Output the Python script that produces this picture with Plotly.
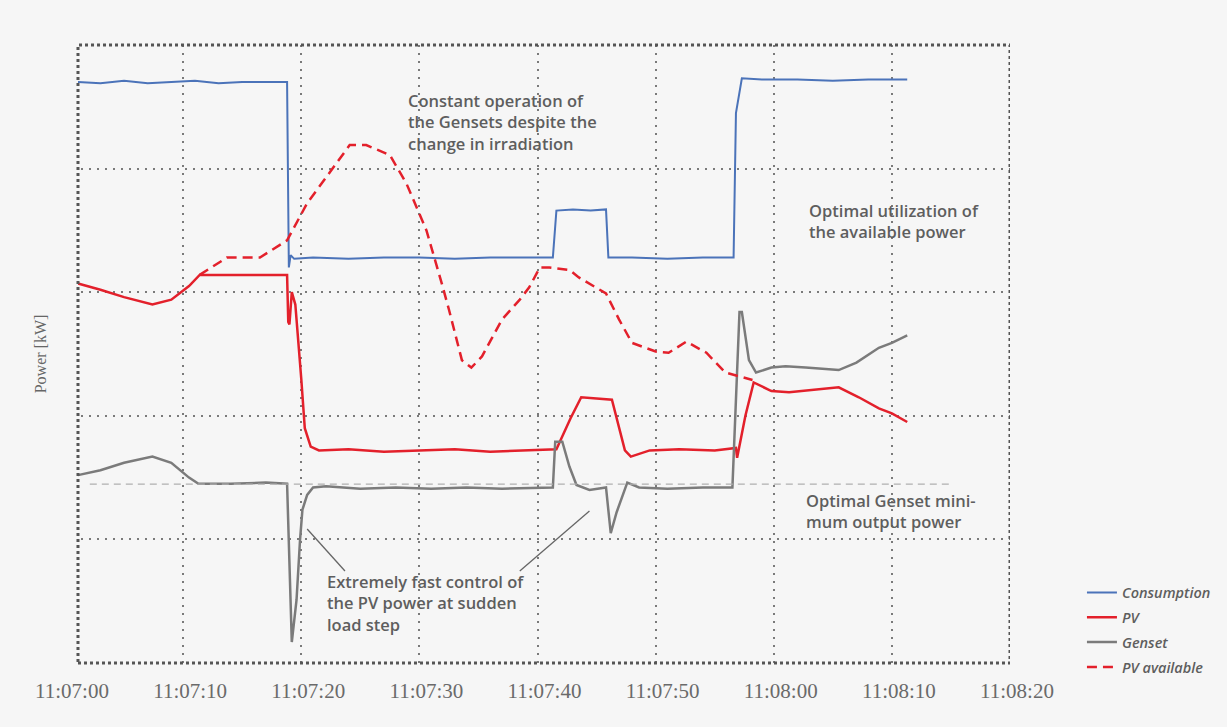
import pandas as pd
import plotly.graph_objects as go

BASE = pd.Timestamp("2024-01-01 11:07:00")

# seconds after 11:07:00 and power values (arbitrary kW units, axis 0..5)
cons_t = [1.1, 3, 5, 7, 9, 11, 13, 15, 17, 18.8, 18.95, 19.1, 19.4, 21, 24, 27, 30, 33, 36, 39,
          41.3, 41.6, 43, 44.5, 45.8, 46.0, 48, 51, 54, 56.4, 56.6, 56.8, 57.1, 57.3, 59, 62, 65, 68, 71.3]
cons_v = [4.70, 4.69, 4.71, 4.69, 4.70, 4.71, 4.69, 4.70, 4.70, 4.70, 3.20, 3.30, 3.27, 3.28, 3.27, 3.28,
          3.28, 3.27, 3.28, 3.28, 3.28, 3.66, 3.67, 3.66, 3.67, 3.28, 3.28, 3.27, 3.28, 3.28, 3.28, 4.45,
          4.60, 4.73, 4.72, 4.72, 4.71, 4.72, 4.72]

pv_t = [1.1, 3, 5, 7.4, 9, 10.5, 11.4, 14, 17, 18.8, 18.9, 19.0, 19.2, 19.5, 20.0, 20.3, 20.8, 21.5,
        24, 27, 30, 33, 36, 39, 41.6, 42.8, 43.7, 45, 46.3, 47.4, 47.9, 49.5, 52, 55, 56.8, 56.9,
        57.6, 58.3, 59.8, 61.3, 63.5, 65.5, 67.2, 68.9, 70.0, 71.3]
pv_v = [3.07, 3.02, 2.96, 2.90, 2.94, 3.05, 3.14, 3.14, 3.14, 3.14, 2.76, 2.74, 3.00, 2.90, 2.30, 1.90,
        1.75, 1.72, 1.73, 1.71, 1.72, 1.73, 1.71, 1.72, 1.73, 1.98, 2.15, 2.14, 2.13, 1.72, 1.67, 1.72,
        1.73, 1.72, 1.74, 1.66, 2.00, 2.27, 2.20, 2.19, 2.21, 2.23, 2.15, 2.06, 2.02, 1.95]

pva_t = [11.4, 13.7, 16.5, 18.8, 20.5, 22.1, 24.1, 25.5, 27.5, 28.9, 30.6, 31.9, 32.5, 33.6, 34.4,
         35.3, 37.0, 38.5, 39.3, 40.2, 41.0, 42.7, 43.5, 45.8, 46.9, 48.0, 50.0, 51.1, 52.6, 54.3,
         55.9, 58.2]
pva_v = [3.14, 3.28, 3.28, 3.42, 3.72, 3.93, 4.19, 4.19, 4.11, 3.88, 3.50, 3.07, 2.86, 2.45, 2.39,
         2.48, 2.78, 2.94, 3.04, 3.20, 3.20, 3.18, 3.12, 2.99, 2.78, 2.59, 2.52, 2.51, 2.60, 2.51,
         2.35, 2.29]

gen_t = [1.1, 3, 5, 7.4, 9, 10.5, 11.3, 14, 17, 18.8, 19.2, 19.6, 19.9, 20.1, 20.5, 21.0, 22.1, 25,
         28, 31, 34, 37, 41.3, 41.5, 42.1, 42.7, 43.3, 44.4, 45.8, 46.2, 46.7, 47.6, 48.6, 51, 54,
         56.5, 57.1, 57.3, 57.9, 58.5, 59.8, 61.0, 62.7, 65.5, 67.0, 68.9, 70.0, 71.3]
gen_v = [1.52, 1.56, 1.62, 1.67, 1.62, 1.50, 1.45, 1.45, 1.46, 1.45, 0.17, 0.51, 1.00, 1.24, 1.36,
         1.42, 1.43, 1.41, 1.42, 1.41, 1.42, 1.41, 1.42, 1.79, 1.79, 1.59, 1.44, 1.40, 1.42, 1.05,
         1.22, 1.46, 1.42, 1.41, 1.42, 1.42, 2.84, 2.84, 2.45, 2.35, 2.39, 2.40, 2.39, 2.37, 2.43,
         2.55, 2.59, 2.65]

genset_min_level = 1.448
genset_min_span = [2.1, 75.0]

x_ticks_s = [0, 10, 20, 30, 40, 50, 60, 70, 80]
frame_start_s = 1.1   # the recorded window (and the chart frame) starts just after 11:07:00


def ts(sec):
    return BASE + pd.to_timedelta(sec, unit="s")


BLUE = "#4b73b9"
RED = "#e3202b"
GRAY = "#7b7b7b"
TXT = "#5e5e5e"
BG = "#f6f6f6"

fig = go.Figure()
fig.add_trace(go.Scatter(x=ts(cons_t), y=cons_v, mode="lines", name="Consumption",
                         line=dict(color=BLUE, width=2), legendgroup="a"))
fig.add_trace(go.Scatter(x=ts(pv_t), y=pv_v, mode="lines", name="PV",
                         line=dict(color=RED, width=2.5), legendgroup="b"))
fig.add_trace(go.Scatter(x=ts(gen_t), y=gen_v, mode="lines", name="Genset",
                         line=dict(color=GRAY, width=2.5), legendgroup="c"))
fig.add_trace(go.Scatter(x=ts(pva_t), y=pva_v, mode="lines", name="PV available",
                         line=dict(color=RED, width=2.5, dash="10px,6px"), legendgroup="d"))
# Genset minimum output reference line
fig.add_trace(go.Scatter(x=ts(genset_min_span), y=[genset_min_level] * 2, mode="lines",
                         line=dict(color="#b0b0b0", width=1.3, dash="7px,5px"),
                         showlegend=False, hoverinfo="skip"))

ann_font = dict(family="Open Sans", size=16.5, color=TXT, weight=600)
annotations = [
    dict(x=ts(28.9), y=4.66, text="Constant operation of<br>the Gensets despite the<br>change in irradiation"),
    dict(x=ts(62.8), y=3.77, text="Optimal utilization of<br>the available power"),
    dict(x=ts(62.6), y=1.42, text="Optimal Genset mini-<br>mum output power"),
    dict(x=ts(22.0), y=0.77, text="Extremely fast control of<br>the PV power at sudden<br>load step"),
]
for a in annotations:
    a.update(xref="x", yref="y", xanchor="left", yanchor="top", align="left",
             showarrow=False, font=ann_font)

shapes = [
    # blank strip left of the frame
    dict(type="rect", xref="x", yref="paper", x0=ts(-0.5), x1=ts(frame_start_s), y0=-0.01, y1=1.01,
         line=dict(width=0), fillcolor=BG, layer="above"),
    # dotted frame
    dict(type="rect", xref="x", yref="paper", x0=ts(frame_start_s), x1=ts(80), y0=0, y1=1,
         line=dict(color="#555555", width=3, dash="3px,3px"), layer="above"),
    dict(type="line", xref="x", yref="y", x0=ts(23.7), y0=0.744, x1=ts(20.5), y1=1.084,
         line=dict(color="#666666", width=1.3)),
    dict(type="line", xref="x", yref="y", x0=ts(38.5), y0=0.744, x1=ts(44.4), y1=1.23,
         line=dict(color="#666666", width=1.3)),
]

fig.update_layout(
    width=1227, height=727,
    margin=dict(l=65, r=216, t=45, b=64),
    paper_bgcolor=BG, plot_bgcolor=BG,
    showlegend=True,
    legend=dict(x=1.075, y=0.14, xanchor="left", yanchor="top", bgcolor="rgba(0,0,0,0)",
                font=dict(family="Open Sans", size=14.5, color=TXT, style="italic", weight=600),
                tracegroupgap=3, itemwidth=30),
    annotations=annotations,
    shapes=shapes,
)
fig.update_xaxes(
    type="date", range=[ts(0), ts(80)],
    tickvals=ts(x_ticks_s), tickformat="%H:%M:%S",
    tickfont=dict(family="Liberation Serif", size=21, color="#6a6a6a"),
    ticks="", ticklabelstandoff=13, ticklabelshift=7,
    showgrid=True, gridcolor="#7a7a7a", gridwidth=1.5, griddash="2px,6px",
    zeroline=False, showline=False,
)
fig.update_yaxes(
    range=[0, 5], dtick=1, showticklabels=False, ticks="",
    showgrid=True, gridcolor="#7a7a7a", gridwidth=1.5, griddash="2px,6px",
    zeroline=False, showline=False,
    title=dict(text="Power [kW]", standoff=13,
               font=dict(family="Liberation Serif", size=16, color="#666666")),
)

fig.write_html(
    "out.html",
    config={"displayModeBar": False},
    post_script="document.body.style.margin='0px';document.body.style.background='#f6f6f6';",
)
